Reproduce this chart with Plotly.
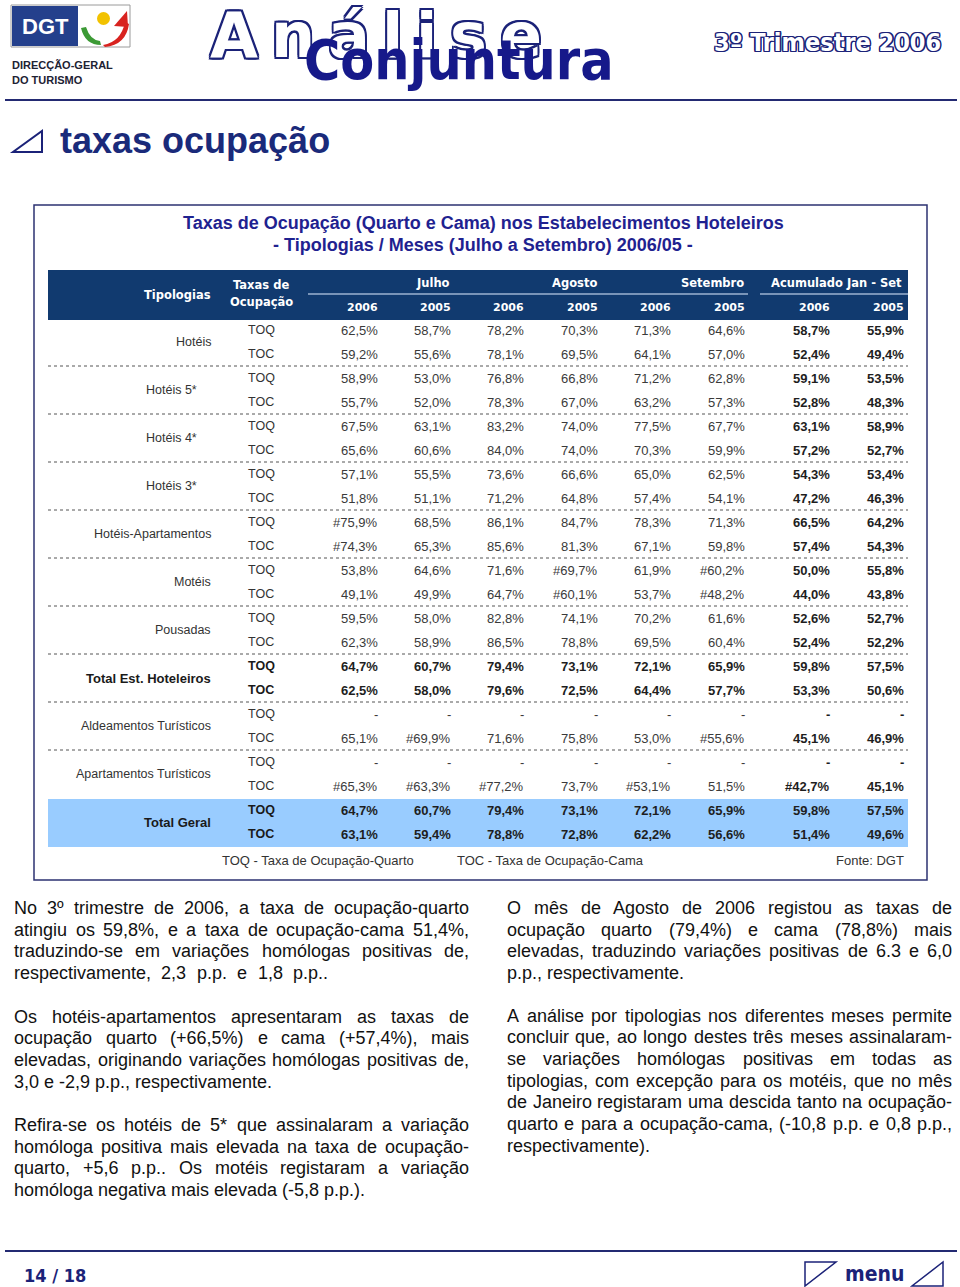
import plotly.graph_objects as go

# ---------------- DATA ----------------
tipologias = ["Hotéis", "Hotéis 5*", "Hotéis 4*", "Hotéis 3*", "Hotéis-Apartamentos", "Motéis",
              "Pousadas", "Total Est. Hoteleiros", "Aldeamentos Turísticos",
              "Apartamentos Turísticos", "Total Geral"]
taxas = ["TOQ", "TOC"]
meses = ["Julho", "Agosto", "Setembro", "Acumulado Jan - Set"]
anos = ["2006", "2005"]

julho_2006 = ["62,5%", "59,2%", "58,9%", "55,7%", "67,5%", "65,6%", "57,1%", "51,8%", "#75,9%", "#74,3%", "53,8%",
              "49,1%", "59,5%", "62,3%", "64,7%", "62,5%", "-", "65,1%", "-", "#65,3%", "64,7%", "63,1%"]
julho_2005 = ["58,7%", "55,6%", "53,0%", "52,0%", "63,1%", "60,6%", "55,5%", "51,1%", "68,5%", "65,3%", "64,6%",
              "49,9%", "58,0%", "58,9%", "60,7%", "58,0%", "-", "#69,9%", "-", "#63,3%", "60,7%", "59,4%"]
agosto_2006 = ["78,2%", "78,1%", "76,8%", "78,3%", "83,2%", "84,0%", "73,6%", "71,2%", "86,1%", "85,6%", "71,6%",
               "64,7%", "82,8%", "86,5%", "79,4%", "79,6%", "-", "71,6%", "-", "#77,2%", "79,4%", "78,8%"]
agosto_2005 = ["70,3%", "69,5%", "66,8%", "67,0%", "74,0%", "74,0%", "66,6%", "64,8%", "84,7%", "81,3%", "#69,7%",
               "#60,1%", "74,1%", "78,8%", "73,1%", "72,5%", "-", "75,8%", "-", "73,7%", "73,1%", "72,8%"]
setembro_2006 = ["71,3%", "64,1%", "71,2%", "63,2%", "77,5%", "70,3%", "65,0%", "57,4%", "78,3%", "67,1%", "61,9%",
                 "53,7%", "70,2%", "69,5%", "72,1%", "64,4%", "-", "53,0%", "-", "#53,1%", "72,1%", "62,2%"]
setembro_2005 = ["64,6%", "57,0%", "62,8%", "57,3%", "67,7%", "59,9%", "62,5%", "54,1%", "71,3%", "59,8%", "#60,2%",
                 "#48,2%", "61,6%", "60,4%", "65,9%", "57,7%", "-", "#55,6%", "-", "51,5%", "65,9%", "56,6%"]
acum_2006 = ["58,7%", "52,4%", "59,1%", "52,8%", "63,1%", "57,2%", "54,3%", "47,2%", "66,5%", "57,4%", "50,0%",
             "44,0%", "52,6%", "52,4%", "59,8%", "53,3%", "-", "45,1%", "-", "#42,7%", "59,8%", "51,4%"]
acum_2005 = ["55,9%", "49,4%", "53,5%", "48,3%", "58,9%", "52,7%", "53,4%", "46,3%", "64,2%", "54,3%", "55,8%",
             "43,8%", "52,7%", "52,2%", "57,5%", "50,6%", "-", "46,9%", "-", "45,1%", "57,5%", "49,6%"]
value_columns = [julho_2006, julho_2005, agosto_2006, agosto_2005,
                 setembro_2006, setembro_2005, acum_2006, acum_2005]

bold_groups = ["Total Est. Hoteleiros", "Total Geral"]

table_title = ["Taxas de Ocupação (Quarto e Cama) nos Estabelecimentos Hoteleiros",
               "- Tipologias / Meses (Julho a Setembro) 2006/05 -"]
footnotes = ["TOQ - Taxa de Ocupação-Quarto", "TOC - Taxa de Ocupação-Cama", "Fonte: DGT"]

left_paragraphs = [
    ["No 3º trimestre de 2006,  a taxa de ocupação-quarto",
     "atingiu os 59,8%, e a taxa de ocupação-cama 51,4%,",
     "traduzindo-se em variações homólogas positivas de,",
     "respectivamente, 2,3 p.p. e 1,8 p.p.."],
    ["Os hotéis-apartamentos apresentaram as taxas de",
     "ocupação quarto (+66,5%) e cama (+57,4%), mais",
     "elevadas, originando variações homólogas positivas de,",
     "3,0 e -2,9 p.p., respectivamente."],
    ["Refira-se os hotéis de 5* que assinalaram a variação",
     "homóloga positiva mais elevada na taxa de ocupação-",
     "quarto, +5,6 p.p.. Os motéis registaram a variação",
     "homóloga negativa mais elevada (-5,8 p.p.)."],
]
right_paragraphs = [
    ["O mês de Agosto de 2006 registou as taxas de",
     "ocupação quarto (79,4%) e cama (78,8%) mais",
     "elevadas, traduzindo variações positivas de 6.3 e 6,0",
     "p.p., respectivamente."],
    ["A análise por tipologias nos diferentes meses permite",
     "concluir que, ao longo destes três meses assinalaram-",
     "se variações homólogas positivas em todas as",
     "tipologias, com excepção para os motéis, que no mês",
     "de Janeiro registaram uma descida tanto na ocupação-",
     "quarto e para a ocupação-cama, (-10,8 p.p. e 0,8 p.p.,",
     "respectivamente)."],
]

page_title = "taxas ocupação"
pagina = "14 / 18"
masthead = ["Análise", "Conjuntura", "3º Trimestre 2006"]
org_name = ["DIRECÇÃO-GERAL", "DO TURISMO"]

# ---------------- STYLE / LAYOUT ----------------
W, H = 960, 1287
NAVY = "#1b2278"
HEAD_BG = "#113a6f"
BAND_BG = "#99ccff"
SANS = "Liberation Sans, Arial, sans-serif"
WIDE = "DejaVu Sans, Verdana, sans-serif"
COND = "DejaVu Sans Condensed, Liberation Sans Narrow, sans-serif"

COL_RIGHT = [378, 451, 524, 598, 671, 745, 830, 904]
MONTH_CX = [433, 574, 712, 836]
ROW_Y0, ROW_H = 330, 24
LABEL_RIGHT, TAXA_X = 211, 248
TAB_X0, TAB_X1 = 48, 908

HELV = {c: 556 for c in "0123456789"}
HELV.update({' ': 278, '!': 278, '%': 889, '(': 333, ')': 333, '*': 389, '+': 584, ',': 278, '-': 333,
             '.': 278, '/': 278, ':': 278, ';': 278,
             'A': 667, 'B': 667, 'C': 722, 'D': 722, 'E': 667, 'F': 611, 'G': 778, 'H': 722, 'I': 278,
             'J': 500, 'K': 667, 'L': 556, 'M': 833, 'N': 722, 'O': 778, 'P': 667, 'Q': 778, 'R': 722,
             'S': 667, 'T': 611, 'U': 722, 'V': 667, 'W': 944, 'X': 667, 'Y': 667, 'Z': 611,
             'a': 556, 'b': 556, 'c': 500, 'd': 556, 'e': 556, 'f': 278, 'g': 556, 'h': 556, 'i': 222,
             'j': 222, 'k': 500, 'l': 222, 'm': 833, 'n': 556, 'o': 556, 'p': 556, 'q': 556, 'r': 333,
             's': 500, 't': 278, 'u': 556, 'v': 500, 'w': 722, 'x': 500, 'y': 500, 'z': 500,
             'á': 556, 'à': 556, 'â': 556, 'ã': 556, 'é': 556, 'ê': 556, 'í': 278, 'ó': 556, 'ô': 556,
             'õ': 556, 'ú': 556, 'ç': 500, 'º': 365})
DJB = {'A': 774, 'n': 712, 'á': 675, 'l': 343, 'i': 343, 's': 595, 'e': 678}


def tw(s, size):
    return sum(HELV.get(c, 556) for c in s) * size / 1000.0


def outline_shadow(color, w):
    offs = [(-w, -w), (w, -w), (-w, w), (w, w), (0, w), (0, -w), (w, 0), (-w, 0)]
    return ", ".join("%gpx %gpx 0 %s" % (dx, dy, color) for dx, dy in offs)


annotations = []
shapes = []


def ann(x, y, text, size, color="#222", family=SANS, xanchor="center", bold=False, shadow=None, **kw):
    f = dict(size=size, color=color, family=family, weight="bold" if bold else "normal")
    if shadow:
        f["shadow"] = shadow
    d = dict(x=x, y=y, xref="x", yref="y", text=text,
             showarrow=False, xanchor=xanchor, yanchor="middle", borderpad=0, borderwidth=0,
             font=f)
    d.update(kw)
    annotations.append(d)


def rect(x0, y0, x1, y1, fill=None, line=None, lw=1):
    shapes.append(dict(type="rect", xref="x", yref="y", x0=x0, y0=y0, x1=x1, y1=y1,
                       fillcolor=fill or "rgba(0,0,0,0)", layer="below",
                       line=dict(color=line or "rgba(0,0,0,0)", width=lw if line else 0)))


def hline(x0, x1, y, color, lw=1, dash=None):
    shapes.append(dict(type="line", xref="x", yref="y", x0=x0, x1=x1, y0=y, y1=y,
                       line=dict(color=color, width=lw, dash=dash or "solid")))


def path(p, fill=None, line=None, lw=1):
    shapes.append(dict(type="path", xref="x", yref="y", path=p,
                       fillcolor=fill or "rgba(0,0,0,0)",
                       line=dict(color=line or "rgba(0,0,0,0)", width=lw if line else 0)))


# ---------- page header ----------
rect(11, 5, 130, 47, fill="white", line="#9a9a9a", lw=1)
rect(12, 6, 78, 46, fill="#24408c")
ann(45, 26, "DGT", 22, "white", SANS, bold=True)
shapes.append(dict(type="circle", xref="x", yref="y", x0=97, y0=12, x1=110, y1=25,
                   fillcolor="#f2c200", line=dict(width=0)))
path("M 81 28 Q 85 45 101 45 L 100 41 Q 90 40 86 27 Z", fill="#3c9a35")
path("M 103 45 Q 121 42 125 22 L 129 24 Q 126 45 105 47 Z", fill="#d8231f")
path("M 114 26 L 127 11 L 128 27 Z", fill="#d8231f")
ann(12, 65, org_name[0], 11, "#1d2233", SANS, xanchor="left", bold=True)
ann(12, 80, org_name[1], 11, "#1d2233", SANS, xanchor="left", bold=True)

# "Análise" - outlined, letters spread across the masthead width
A_SIZE = 62
A_X0, A_X1 = 210, 542
letters = list(masthead[0])
lw_ = [DJB.get(c, 650) * A_SIZE / 1000 for c in letters]
gap = (A_X1 - A_X0 - sum(lw_)) / (len(letters) - 1)
xx = A_X0
for c, wdt in zip(letters, lw_):
    ann(xx, 35, c, A_SIZE, "white", WIDE, xanchor="left", bold=True,
        shadow=outline_shadow(NAVY, 1.8))
    xx += wdt + gap

ann(459, 60, masthead[1], 55, "#16198a", COND, bold=True)
ann(827, 42, masthead[2], 25, "white", COND, bold=True, shadow=outline_shadow(NAVY, 1.3))
hline(5, 957, 100, "#232a72", 2)

# ---------- page title ----------
path("M 13 152 L 42 152 L 42 131 Z", line=NAVY, lw=2)
ann(60, 140, page_title, 36, "#1a2a7a", SANS, xanchor="left", bold=True)

# ---------- table frame ----------
rect(34, 205, 927, 880, fill="white", line="#2c3272", lw=1.5)
ann(483, 223, table_title[0], 18, "#1f2290", SANS, bold=True)
ann(483, 245, table_title[1], 18, "#1f2290", SANS, bold=True)

# header band
rect(TAB_X0, 270, TAB_X1, 320, fill=HEAD_BG)
hline(308, 748, 294, "#9db3d1", 1.5)
hline(760, TAB_X1, 294, "#9db3d1", 1.5)
ann(177, 295, "Tipologias", 11.5, "white", WIDE, bold=True)
ann(261, 285, "Taxas de", 11.5, "white", WIDE, bold=True)
ann(261, 302, "Ocupação", 11.5, "white", WIDE, bold=True)
for cx, m in zip(MONTH_CX, meses):
    ann(cx, 283, m, 11.5, "white", WIDE, bold=True)
for i, xr in enumerate(COL_RIGHT):
    ann(xr, 307, anos[i % 2], 11, "white", WIDE, xanchor="right", bold=True)

# total geral band
rect(TAB_X0, 799, TAB_X1, 847, fill=BAND_BG)

# body rows
label_shift = {"Hotéis 5*": -14, "Hotéis 4*": -14, "Hotéis 3*": -14}
for g, tip in enumerate(tipologias):
    bold = tip in bold_groups
    yc = ROW_Y0 + ROW_H * (2 * g + 0.5)
    ann(LABEL_RIGHT + label_shift.get(tip, 0), yc, tip, 13 if bold else 12.5,
        "#1a1a1a" if bold else "#333", SANS, xanchor="right", bold=bold)
    if g < len(tipologias) - 2:
        hline(TAB_X0, TAB_X1, ROW_Y0 + ROW_H * (2 * g + 1.5), "#555", 1, "dot")
    for k, tx in enumerate(taxas):
        r = 2 * g + k
        y = ROW_Y0 + ROW_H * r
        ann(TAXA_X, y, tx, 12.5, "#1a1a1a" if bold else "#333", SANS, xanchor="left", bold=bold)
        for c, col in enumerate(value_columns):
            b = bold or c >= 6
            ann(COL_RIGHT[c], y, col[r], 13, "#1e1e1e" if b else "#3a3a3a", SANS,
                xanchor="right", bold=b)

# footnotes
ann(222, 860, footnotes[0], 13, "#333", SANS, xanchor="left")
ann(457, 860, footnotes[1], 13, "#333", SANS, xanchor="left")
ann(904, 860, footnotes[2], 13, "#333", SANS, xanchor="right")

# ---------- justified paragraphs ----------
FS = 18
LINE_H = 21.7
stretch_last = {("L", 0): 314}


def paragraphs(paras, x0, x1, starts, side):
    for p, (lines, y0) in enumerate(zip(paras, starts)):
        for i, line in enumerate(lines):
            words = line.split()
            y = y0 + i * LINE_H
            widths = [tw(w, FS) for w in words]
            last = i == len(lines) - 1
            if last and (side, p) not in stretch_last:
                gp = tw(" ", FS)
            else:
                target = (x1 - x0) if not last else stretch_last[(side, p)]
                gp = (target - sum(widths)) / max(len(words) - 1, 1)
            x = x0
            for w, wd in zip(words, widths):
                ann(x, y, w, FS, "#111", SANS, xanchor="left")
                x += wd + gp


paragraphs(left_paragraphs, 14, 469, [908, 1016.5, 1125], "L")
paragraphs(right_paragraphs, 507, 952, [908, 1015.5], "R")

# ---------- footer ----------
hline(5, 957, 1251, "#232a72", 2)
ann(24, 1275, pagina, 18, NAVY, COND, xanchor="left", bold=True)
path("M 805 1262 L 836 1262 L 805 1286 Z", line=NAVY, lw=1.5)
ann(845, 1274, "menu", 21, NAVY, COND, xanchor="left", bold=True)
path("M 943 1262 L 943 1286 L 912 1286 Z", line=NAVY, lw=1.5)

fig = go.Figure()
fig.add_trace(go.Scatter(x=[0, W], y=[0, H], mode="markers", marker=dict(opacity=0),
                         hoverinfo="skip", showlegend=False))
fig.update_layout(
    width=W, height=H, margin=dict(l=0, r=0, t=0, b=0),
    paper_bgcolor="white", plot_bgcolor="white",
    xaxis=dict(range=[0, W], visible=False, fixedrange=True),
    yaxis=dict(range=[H, 0], visible=False, fixedrange=True),
    annotations=annotations, shapes=shapes, showlegend=False,
    font=dict(family=SANS),
)
fig.write_html("out.html", config={"displayModeBar": False},
               post_script="document.body.style.margin='0';")
